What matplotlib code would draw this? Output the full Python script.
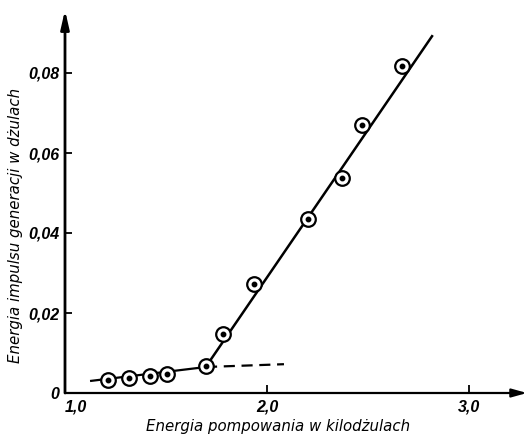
import matplotlib
matplotlib.use("Agg")
import matplotlib.pyplot as plt

# Data
pump_energy = [1.211, 1.318, 1.421, 1.506, 1.698, 1.782, 1.936, 2.203, 2.371, 2.470, 2.668]
pulse_energy = [0.0032, 0.0037, 0.0042, 0.0047, 0.0067, 0.0148, 0.0272, 0.0435, 0.0537, 0.0670, 0.0817]

low_line_x = [1.124, 1.698]
low_line_y = [0.0030, 0.0065]
dash_line_x = [1.698, 2.084]
dash_line_y = [0.0065, 0.0072]
steep_line_x = [1.698, 2.817]
steep_line_y = [0.0066, 0.0892]

xticks = [1.0, 2.0, 3.0]
xtick_labels = ["1,0", "2,0", "3,0"]
yticks = [0.0, 0.02, 0.04, 0.06, 0.08]
ytick_labels = ["0", "0,02", "0,04", "0,06", "0,08"]

xlabel = "Energia pompowania w kilodżulach"
ylabel = "Energia impulsu generacji w dżulach"

W, H = 527, 437
fig = plt.figure(figsize=(W / 100, H / 100), dpi=100)
x0_px, y0_px = 65, 393
ax = fig.add_axes([x0_px / W, (H - y0_px) / H, (W - x0_px) / W, (y0_px - 10) / H])
xmax = 1.0 + (W - x0_px) / 202.0
ymax = (y0_px - 10) / 4000.0
ax.set_xlim(1.0, xmax)
ax.set_ylim(0.0, ymax)
for s in ax.spines.values():
    s.set_visible(False)

# axes with arrows
ax.annotate("", xy=(1.0, 0.0), xytext=(0.0, 0.0), xycoords="axes fraction",
            textcoords="axes fraction", annotation_clip=False,
            arrowprops=dict(arrowstyle="-|>,head_length=0.9,head_width=0.25",
                            lw=1.6, color="black", shrinkA=0, shrinkB=0))
ax.annotate("", xy=(0.0, 1.0), xytext=(0.0, 0.0), xycoords="axes fraction",
            textcoords="axes fraction", annotation_clip=False,
            arrowprops=dict(arrowstyle="-|>,head_length=1.1,head_width=0.25",
                            lw=2.0, color="black", shrinkA=0, shrinkB=0))

tick_font = dict(family="Liberation Sans", weight="bold", style="italic", size=11.5)
ax.set_xticks(xticks)
ax.set_xticklabels(xtick_labels, fontdict=tick_font)
ax.set_yticks(yticks)
ax.set_yticklabels(ytick_labels, fontdict=tick_font)
ax.tick_params(axis="x", direction="in", length=6, width=1.3, pad=5)
ax.tick_params(axis="y", direction="in", length=5, width=1.3, pad=4)
ax.get_xticklabels()[0].set_horizontalalignment("left")

# lines
ax.plot(low_line_x, low_line_y, color="black", lw=1.6, solid_capstyle="butt")
ax.plot(dash_line_x, dash_line_y, color="black", lw=1.6, dashes=(5, 3))
ax.plot(steep_line_x, steep_line_y, color="black", lw=1.8)

# markers: circle with centre dot
ax.plot(pump_energy, pulse_energy, linestyle="none", marker="o", markersize=10.5,
        markerfacecolor="white", markeredgecolor="black", markeredgewidth=1.6, zorder=3)
ax.plot(pump_energy, pulse_energy, linestyle="none", marker="o", markersize=3.2,
        markerfacecolor="black", markeredgecolor="black", zorder=4)

label_font = dict(family="DejaVu Sans", style="italic", size=10.8)
fig.text(278.5 / W, 1 - 427 / H, xlabel, ha="center", va="center", **label_font)
fig.text(16 / W, 1 - 225 / H, ylabel, ha="center", va="center", rotation=90, **label_font)

fig.savefig("out.png", dpi=100)
